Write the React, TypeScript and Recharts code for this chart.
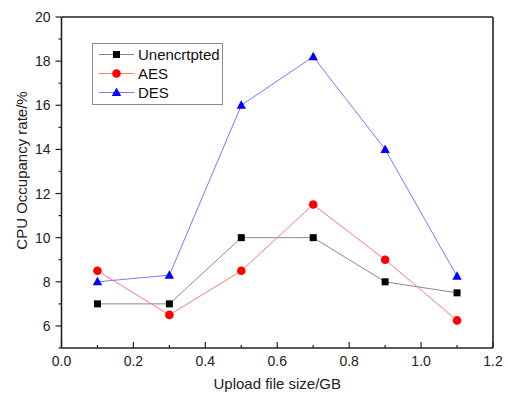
import { LineChart, Line, XAxis, YAxis, ReferenceLine } from 'recharts'

const sizes = [0.1, 0.3, 0.5, 0.7, 0.9, 1.1]
const unencrypted = [7, 7, 10, 10, 8, 7.5]
const aes = [8.5, 6.5, 8.5, 11.5, 9, 6.25]
const des = [8, 8.3, 16, 18.2, 14, 8.25]

const xTicks = [0, 0.1, 0.2, 0.3, 0.4, 0.5, 0.6, 0.7, 0.8, 0.9, 1.0, 1.1, 1.2]
const yTicks = [5, 6, 7, 8, 9, 10, 11, 12, 13, 14, 15, 16, 17, 18, 19, 20]

const FONT = '"Liberation Sans", Arial, sans-serif'

const data = sizes.map((x, i) => ({
  x,
  unencrypted: unencrypted[i],
  aes: aes[i],
  des: des[i],
}))

const series = [
  { key: 'unencrypted', name: 'Unencrtpted', line: '#8a8a8a', mark: '#000000', shape: 'square' },
  { key: 'aes', name: 'AES', line: '#ff7a7a', mark: '#ff0000', shape: 'circle' },
  { key: 'des', name: 'DES', line: '#7a7aff', mark: '#0000ff', shape: 'triangle' },
]

function Marker({ cx, cy, shape, fill }: any) {
  if (cx == null || cy == null) return null
  if (shape === 'square')
    return <rect x={cx - 3.5} y={cy - 3.5} width={7} height={7} fill={fill} />
  if (shape === 'circle') return <circle cx={cx} cy={cy} r={4.3} fill={fill} />
  return (
    <polygon
      points={`${cx},${cy - 5} ${cx - 4.7},${cy + 3.5} ${cx + 4.7},${cy + 3.5}`}
      fill={fill}
    />
  )
}

function XTick({ x, y, payload }: any) {
  const v = payload.value
  const major = Math.round(v * 10) % 2 === 0
  return (
    <g>
      <line x1={x} y1={y} x2={x} y2={y - (major ? 6 : 3)} stroke="#222" strokeWidth={1.2} />
      {major && (
        <text x={x} y={y + 18} textAnchor="middle" fontSize={14} fontFamily={FONT} fill="#222">
          {v.toFixed(1)}
        </text>
      )}
    </g>
  )
}

function YTick({ x, y, payload }: any) {
  const v = payload.value
  const major = v % 2 === 0
  return (
    <g>
      <line x1={x} y1={y} x2={x - (major ? 6 : 3)} y2={y} stroke="#222" strokeWidth={1.2} />
      {major && (
        <text x={x - 11} y={y + 5} textAnchor="end" fontSize={14} fontFamily={FONT} fill="#222">
          {v}
        </text>
      )}
    </g>
  )
}

function LegendBox() {
  return (
    <div
      style={{
        position: 'absolute',
        left: 92,
        top: 43,
        border: '1px solid #8c8c8c',
        background: '#fff',
        width: 129,
        padding: '1px 0 2px 0',
        fontFamily: FONT,
        fontSize: 15,
        color: '#111',
      }}
    >
      {series.map((s) => (
        <div key={s.key} style={{ display: 'flex', alignItems: 'center', height: 19 }}>
          <svg width={42} height={19} style={{ marginLeft: 5 }}>
            <line x1={1} y1={9.5} x2={36} y2={9.5} stroke={s.line} strokeWidth={1} />
            <Marker cx={18.5} cy={9.5} shape={s.shape} fill={s.mark} />
          </svg>
          <span style={{ marginLeft: -2 }}>{s.name}</span>
        </div>
      ))}
    </div>
  )
}

export default function App() {
  return (
    <div style={{ position: 'absolute', left: 0, top: 0, width: 508, height: 396, background: '#fff' }}>
      <LineChart
        width={508}
        height={396}
        data={data}
        margin={{ top: 17, right: 15, bottom: 0, left: 0 }}
      >
        <XAxis
          type="number"
          dataKey="x"
          domain={[0, 1.2]}
          ticks={xTicks}
          interval={0}
          height={48}
          tickSize={0}
          tickMargin={0}
          tick={<XTick />}
          axisLine={{ stroke: '#222', strokeWidth: 1.6 }}
          label={(props: any) => {
            const vb = props.viewBox
            return (
              <text
                x={vb.x + vb.width / 2}
                y={vb.y + 41}
                textAnchor="middle"
                fontSize={15}
                fontFamily={FONT}
                fill="#222"
              >
                Upload file size/GB
              </text>
            )
          }}
        />
        <YAxis
          type="number"
          domain={[5, 20]}
          ticks={yTicks}
          interval={0}
          width={61.5}
          tickSize={0}
          tickMargin={0}
          tick={<YTick />}
          axisLine={{ stroke: '#222', strokeWidth: 1.6 }}
          label={(props: any) => {
            const vb = props.viewBox
            const cx = vb.x + 21
            const cy = vb.y + vb.height / 2 - 12
            return (
              <text
                x={cx}
                y={cy}
                transform={`rotate(-90, ${cx}, ${cy})`}
                textAnchor="middle"
                dominantBaseline="central"
                fontSize={15}
                fontFamily={FONT}
                fill="#222"
              >
                CPU Occupancy rate/%
              </text>
            )
          }}
        />
        <ReferenceLine y={20} stroke="#222" strokeWidth={1.6} />
        <ReferenceLine x={1.2} stroke="#222" strokeWidth={1.6} />
        {series.map((s) => (
          <Line
            key={s.key}
            dataKey={s.key}
            name={s.name}
            stroke={s.line}
            strokeWidth={1}
            isAnimationActive={false}
            dot={(p: any) => <Marker key={p.index} cx={p.cx} cy={p.cy} shape={s.shape} fill={s.mark} />}
            activeDot={false}
          />
        ))}
      </LineChart>
      <LegendBox />
    </div>
  )
}
